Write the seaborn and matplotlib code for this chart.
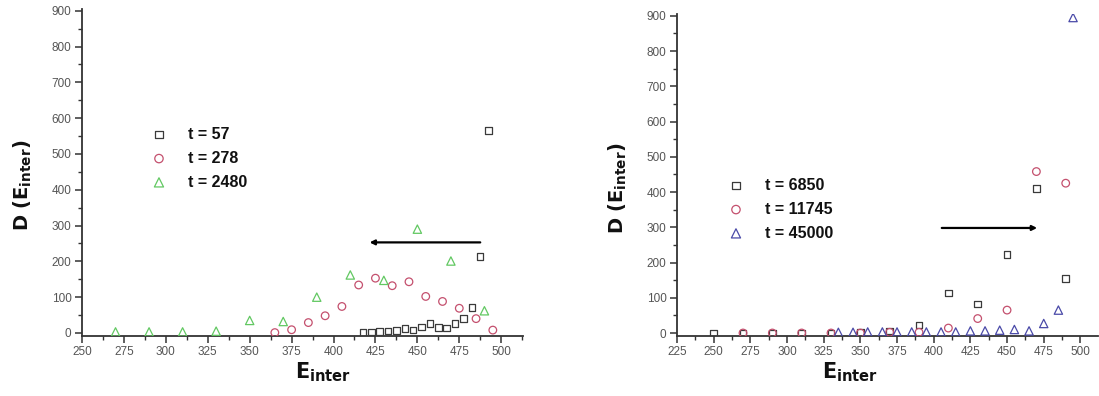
import matplotlib
matplotlib.use("Agg")
import matplotlib.pyplot as plt
import seaborn as sns
import pandas as pd
from matplotlib.ticker import MultipleLocator

# ---------------- data ----------------
# left panel
l_t57_x = [417.5, 422.5, 427.5, 432.5, 437.5, 442.5, 447.5, 452.5, 457.5, 462.5,
           467.5, 472.5, 477.5, 482.5, 487.5, 492.5]
l_t57_y = [1, 2, 4, 6, 7, 12, 8, 17, 27, 15, 14, 26, 40, 71, 214, 566]

l_t278_x = [365, 375, 385, 395, 405, 415, 425, 435, 445, 455, 465, 475, 485, 495]
l_t278_y = [1, 9, 29, 48, 74, 134, 153, 132, 143, 102, 88, 69, 40, 8]

l_t2480_x = [270, 290, 310, 330, 350, 370, 390, 410, 430, 450, 470, 490]
l_t2480_y = [3, 3, 3, 5, 35, 32, 100, 162, 147, 290, 201, 62]

# right panel
r_t6850_x = [250, 270, 290, 310, 330, 350, 370, 390, 410, 430, 450, 470, 490]
r_t6850_y = [0, 0, 0, 0, 0, 2, 5, 23, 113, 82, 222, 410, 155]

r_t11745_x = [270, 290, 310, 330, 350, 370, 390, 410, 430, 450, 470, 490]
r_t11745_y = [0, 0, 0, 0, 0, 2, 2, 14, 41, 65, 458, 425]

r_t45000_x = [335, 345, 355, 365, 375, 385, 395, 405, 415, 425, 435, 445, 455,
              465, 475, 485, 495]
r_t45000_y = [2, 2, 3, 3, 3, 3, 3, 3, 3, 6, 6, 8, 10, 6, 27, 65, 895]

left_labels = ["t = 57", "t = 278", "t = 2480"]
right_labels = ["t = 6850", "t = 11745", "t = 45000"]

left_arrow = (487.5, 421.5, 253)    # from x, to x, at y
right_arrow = (405.5, 470.5, 298)

# ---------------- style ----------------
sns.set_theme(style="ticks")
plt.rcParams["font.family"] = ["Liberation Sans", "DejaVu Sans"]
plt.rcParams["mathtext.fontset"] = "dejavusans"

C_SQ = "#3a3a3a"
C_CI = "#c4506e"
C_TG = "#62c862"
C_TB = "#4a4aa8"
AX_C = "#333333"
TICK_C = "#555555"

fig = plt.figure(figsize=(10.99, 3.96), dpi=100)
axL = fig.add_axes([82 / 1099, 60 / 396, 441 / 1099, 327 / 396])
axR = fig.add_axes([677 / 1099, 60 / 396, 421 / 1099, 322 / 396])


def series(ax, xs, ys, marker, color, size, label):
    df = pd.DataFrame({"x": xs, "y": ys})
    sns.scatterplot(data=df, x="x", y="y", ax=ax, marker=marker, s=size,
                    facecolors="none", edgecolor=color, linewidth=0.9,
                    label=label, zorder=3)


series(axL, l_t57_x, l_t57_y, "s", C_SQ, 22, left_labels[0])
series(axL, l_t278_x, l_t278_y, "o", C_CI, 30, left_labels[1])
series(axL, l_t2480_x, l_t2480_y, "^", C_TG, 36, left_labels[2])

series(axR, r_t6850_x, r_t6850_y, "s", C_SQ, 22, right_labels[0])
series(axR, r_t11745_x, r_t11745_y, "o", C_CI, 30, right_labels[1])
series(axR, r_t45000_x, r_t45000_y, "^", C_TB, 36, right_labels[2])

axL.set_xlim(250, 513)
axR.set_xlim(225, 512)
for ax in (axL, axR):
    ax.set_ylim(-8.5, 905)
    ax.xaxis.set_major_locator(MultipleLocator(25))
    ax.xaxis.set_minor_locator(MultipleLocator(12.5))
    ax.yaxis.set_major_locator(MultipleLocator(100))
    ax.yaxis.set_minor_locator(MultipleLocator(50))
    for s in ("top", "right"):
        ax.spines[s].set_visible(False)
    for s in ("left", "bottom"):
        ax.spines[s].set_color(AX_C)
        ax.spines[s].set_linewidth(1.3)
    ax.tick_params(which="major", direction="out", length=5, width=1.1,
                   color=AX_C, labelsize=8.5, labelcolor=TICK_C, pad=2.5)
    ax.tick_params(which="minor", direction="out", length=3, width=1.0,
                   color=AX_C)
    ax.set_ylabel(r"$\mathbf{D\ (E_{inter})}$", fontsize=14, color="#111111")
    ax.set_xlabel(r"$\mathbf{E_{inter}}$", fontsize=15, color="#111111")

axL.yaxis.set_label_coords(-0.108, 0.46)
axR.yaxis.set_label_coords(-0.115, 0.46)
axL.xaxis.set_label_coords(0.546, -0.075)
axR.xaxis.set_label_coords(0.41, -0.075)
axL.xaxis.label.set_va("top")
axR.xaxis.label.set_va("top")

# arrows
axL.annotate("", xy=(left_arrow[1], left_arrow[2]), xytext=(left_arrow[0], left_arrow[2]),
             arrowprops=dict(arrowstyle="-|>", lw=1.6, color="black",
                             mutation_scale=7, shrinkA=0, shrinkB=0))
axR.annotate("", xy=(right_arrow[1], right_arrow[2]), xytext=(right_arrow[0], right_arrow[2]),
             arrowprops=dict(arrowstyle="-|>", lw=1.6, color="black",
                             mutation_scale=7, shrinkA=0, shrinkB=0))

# legends
legprops = dict(frameon=False, borderpad=0, handlelength=1.0, handletextpad=1.3,
                labelspacing=0.55, markerscale=1.1,
                prop={"weight": "bold", "size": 11.5},
                loc="upper left", bbox_transform=fig.transFigure)
lgL = axL.legend(bbox_to_anchor=(143 / 1099, 1 - 119 / 396), **legprops)
lgR = axR.legend(bbox_to_anchor=(720 / 1099, 1 - 170 / 396), **legprops)
for lg in (lgL, lgR):
    for t in lg.get_texts():
        t.set_color("#111111")

fig.savefig("out.png", dpi=100, facecolor="white")
